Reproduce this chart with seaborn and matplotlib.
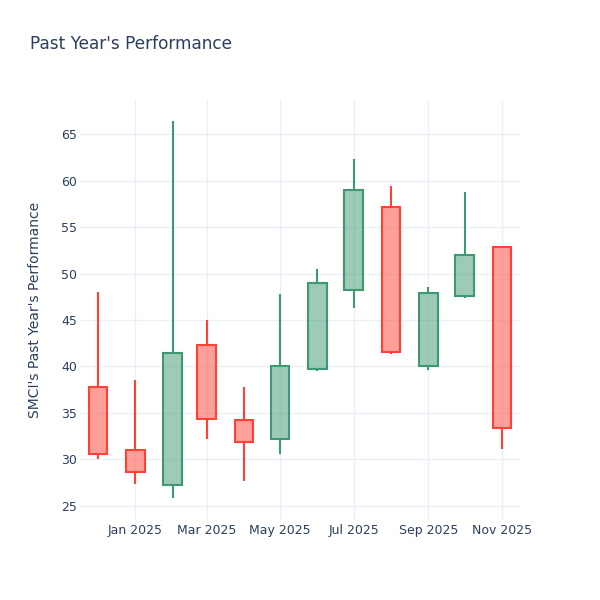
import pandas as pd
import numpy as np
import matplotlib
matplotlib.use("Agg")
import matplotlib.pyplot as plt
import matplotlib.dates as mdates
import seaborn as sns

# monthly candles
months = ["2024-12-01", "2025-01-01", "2025-02-01", "2025-03-01", "2025-04-01", "2025-05-01",
          "2025-06-01", "2025-07-01", "2025-08-01", "2025-09-01", "2025-10-01", "2025-11-01"]
open_ = [37.8, 31.0, 27.2, 42.3, 34.2, 32.15, 39.7, 48.2, 57.2, 40.0, 47.6, 52.9]
close = [30.6, 28.6, 41.4, 34.3, 31.9, 40.05, 49.0, 59.0, 41.6, 47.95, 51.95, 33.4]
high = [48.0, 38.5, 66.45, 45.0, 37.8, 47.8, 50.5, 62.35, 59.45, 48.5, 58.8, 52.9]
low = [30.0, 27.3, 25.8, 32.2, 27.7, 30.6, 39.55, 46.3, 41.35, 39.6, 47.4, 31.1]

df = pd.DataFrame({"date": pd.to_datetime(months), "open": open_, "close": close,
                   "high": high, "low": low})
df["up"] = df["close"] >= df["open"]

sns.set_theme(style="white")
plt.rcParams["font.family"] = ["DejaVu Sans"]

up_col = "#3D9970"
down_col = "#FF4136"
text_col = "#2a3f5f"
grid_col = "#EBF0F8"

fig = plt.figure(figsize=(6, 6), dpi=100)
ax = fig.add_axes([80 / 600, 80 / 600, 440 / 600, 420 / 600])

x = mdates.date2num(df["date"])
colors = np.where(df["up"], up_col, down_col)
body_lo = df[["open", "close"]].min(axis=1)
body_hi = df[["open", "close"]].max(axis=1)

# wicks
ax.vlines(x, df["low"], body_lo, colors=colors, linewidth=1.5, zorder=2)
ax.vlines(x, body_hi, df["high"], colors=colors, linewidth=1.5, zorder=2)

# bodies
for xi, lo, hi, c in zip(x, body_lo, body_hi, colors):
    ax.bar(xi, hi - lo, bottom=lo, width=15.5, color=matplotlib.colors.to_rgba(c, 0.5),
           edgecolor=c, linewidth=1.5, zorder=3)

ax.set_xlim(mdates.date2num(pd.Timestamp("2024-11-16")), mdates.date2num(pd.Timestamp("2025-11-16")))
ax.set_ylim(23.45, 68.7)
ax.set_yticks([25, 30, 35, 40, 45, 50, 55, 60, 65])
ticks = pd.to_datetime(["2025-01-01", "2025-03-01", "2025-05-01", "2025-07-01", "2025-09-01", "2025-11-01"])
ax.set_xticks(mdates.date2num(ticks))
ax.set_xticklabels([t.strftime("%b %Y") for t in ticks])

ax.grid(True, color=grid_col, linewidth=1, zorder=0)
ax.set_axisbelow(True)
for s in ax.spines.values():
    s.set_visible(False)
ax.tick_params(axis="both", length=0, labelsize=9, labelcolor=text_col)
ax.tick_params(axis="x", pad=3)
ax.tick_params(axis="y", pad=2)

fig.text(30 / 600, 1 - 44 / 600, "Past Year's Performance", fontsize=12.2, color=text_col,
         va="center", ha="left")
fig.text(35 / 600, 1 - 310 / 600, "SMCI's Past Year's Performance", fontsize=10, color=text_col,
         rotation=90, va="center", ha="center")

fig.savefig("out.png", dpi=100, facecolor="white")
